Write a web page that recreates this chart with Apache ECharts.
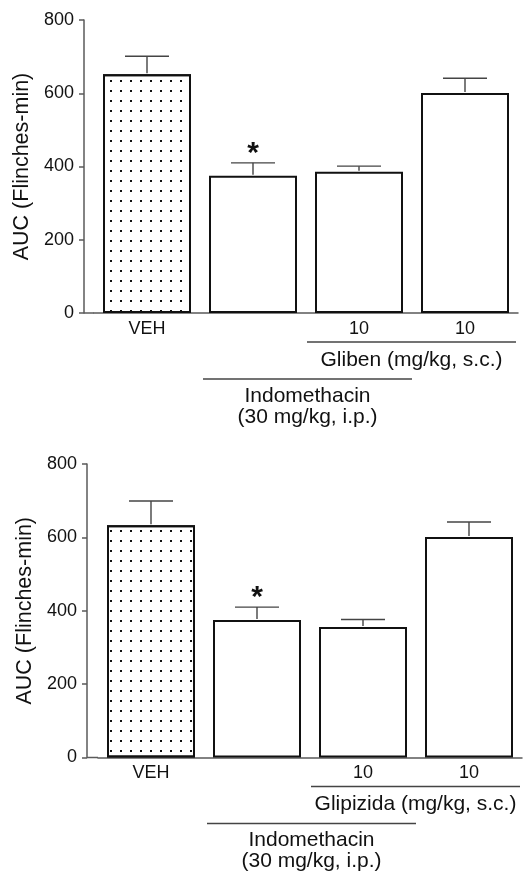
<!DOCTYPE html>
<html>
<head>
<meta charset="utf-8">
<script src="https://cdn.jsdelivr.net/npm/echarts@6/dist/echarts.min.js"></script>
<style>
  html, body { margin: 0; padding: 0; background: #fff; }
  #main { width: 525px; height: 881px; }
</style>
</head>
<body>
<div id="main"></div>
<script>
// data
const categories = ['VEH', '', '10', '10'];
const topMeans = [652, 375, 386, 601];
const topErr = [49, 35, 15, 40];
const bottomMeans = [633, 375, 356, 601];
const bottomErr = [66, 35, 20, 41];
const stars = ['', '*', '', ''];
const yMin = 0, yMax = 800, yStep = 200;
const yName = 'AUC (Flinches-min)';
const topDrug = 'Gliben (mg/kg, s.c.)';
const bottomDrug = 'Glipizida (mg/kg, s.c.)';
const pretreat = 'Indomethacin';
const pretreatDose = '(30 mg/kg, i.p.)';

const FONT = '"Liberation Sans", Arial, Helvetica, sans-serif';
const AXIS_COLOR = '#5a5a5a';

const chart = echarts.init(document.getElementById('main'));

// grid boxes (top / bottom panel)
const grids = [
  { left: 94, top: 20, width: 424, height: 293 },
  { left: 98, top: 464, width: 424, height: 293.5 }
];
const yOffsets = [10, 11];

function barData(means) {
  return means.map((v, i) => {
    if (i === 0) {
      return {
        value: v,
        itemStyle: {
          decal: {
            symbol: 'rect',
            symbolSize: 1,
            dashArrayX: [2, 8],
            dashArrayY: [2, 8],
            color: '#111',
            backgroundColor: null
          }
        }
      };
    }
    return v;
  });
}

function errRender(params, api) {
  const idx = api.value(0);
  const m = api.value(1);
  const e = api.value(2);
  const base = api.coord([idx, m]);
  const top = api.coord([idx, m + e]);
  const children = [
    { type: 'line', shape: { x1: base[0], y1: base[1] - 1, x2: top[0], y2: top[1] },
      style: { stroke: '#444', lineWidth: 1.4 } },
    { type: 'line', shape: { x1: top[0] - 22, y1: top[1], x2: top[0] + 22, y2: top[1] },
      style: { stroke: '#444', lineWidth: 1.4 } }
  ];
  if (stars[idx]) {
    children.push({
      type: 'text',
      style: { text: stars[idx], x: top[0], y: top[1] + 6, align: 'center', verticalAlign: 'bottom',
        font: 'bold 30px ' + FONT, fill: '#111' }
    });
  }
  return { type: 'group', children: children };
}

const xAxes = [], yAxes = [], series = [];
[topMeans, bottomMeans].forEach((means, g) => {
  const errs = g === 0 ? topErr : bottomErr;
  xAxes.push({
    type: 'category',
    gridIndex: g,
    data: categories,
    axisLine: { lineStyle: { color: AXIS_COLOR, width: 1.5 } },
    axisTick: { show: false },
    axisLabel: { color: '#111', fontSize: 18, fontFamily: FONT, margin: 7, interval: 0 }
  });
  yAxes.push({
    type: 'value',
    gridIndex: g,
    min: yMin, max: yMax, interval: yStep,
    offset: yOffsets[g],
    name: yName,
    nameLocation: 'middle',
    nameGap: 51,
    nameTextStyle: { color: '#111', fontSize: 21.5, fontFamily: FONT },
    splitLine: { show: false },
    axisLine: { show: true, lineStyle: { color: AXIS_COLOR, width: 1.5 } },
    axisTick: { show: true, length: 5, lineStyle: { color: AXIS_COLOR, width: 1.5 } },
    axisLabel: { color: '#111', fontSize: 18, fontFamily: FONT, margin: 10 }
  });
  series.push({
    type: 'bar',
    xAxisIndex: g, yAxisIndex: g,
    barWidth: 88,
    data: barData(means),
    itemStyle: { color: '#fff', borderColor: '#111', borderWidth: 2 },
    silent: true
  });
  series.push({
    type: 'custom',
    xAxisIndex: g, yAxisIndex: g,
    renderItem: errRender,
    data: means.map((v, i) => [i, v, errs[i]]),
    z: 3,
    silent: true
  });
});

chart.setOption({
  animation: false,
  backgroundColor: '#fff',
  grid: grids,
  xAxis: xAxes,
  yAxis: yAxes,
  series: series
});

// group annotations under the category axis
const graphics = [];
[topDrug, bottomDrug].forEach((drug, g) => {
  const cx = i => chart.convertToPixel({ xAxisIndex: g }, i);
  const axisY = chart.convertToPixel({ yAxisIndex: g }, 0);
  const yLeft = grids[g].left - yOffsets[g];
  const lineStyle = { stroke: '#444', lineWidth: 1.4 };
  const textStyle = (t, x, y) => ({
    type: 'text',
    style: { text: t, x: x, y: y, align: 'center', verticalAlign: 'middle',
      font: '21px ' + FONT, fill: '#111' }
  });
  // short piece of x axis line between y axis and grid
  graphics.push({ type: 'line', shape: { x1: yLeft, y1: axisY, x2: grids[g].left, y2: axisY },
    style: { stroke: AXIS_COLOR, lineWidth: 1.5 } });
  const d1 = cx(2) - 52, d2 = cx(3) + 51;
  graphics.push({ type: 'line', shape: { x1: d1, y1: axisY + 29, x2: d2, y2: axisY + 29 }, style: lineStyle });
  graphics.push(textStyle(drug, (d1 + d2) / 2, axisY + 47));
  const p1 = cx(1) - 50, p2 = cx(2) + 53;
  graphics.push({ type: 'line', shape: { x1: p1, y1: axisY + 66, x2: p2, y2: axisY + 66 }, style: lineStyle });
  graphics.push(textStyle(pretreat, (p1 + p2) / 2, axisY + 83));
  graphics.push(textStyle(pretreatDose, (p1 + p2) / 2, axisY + 104));
});
chart.setOption({ graphic: graphics });
</script>
</body>
</html>
